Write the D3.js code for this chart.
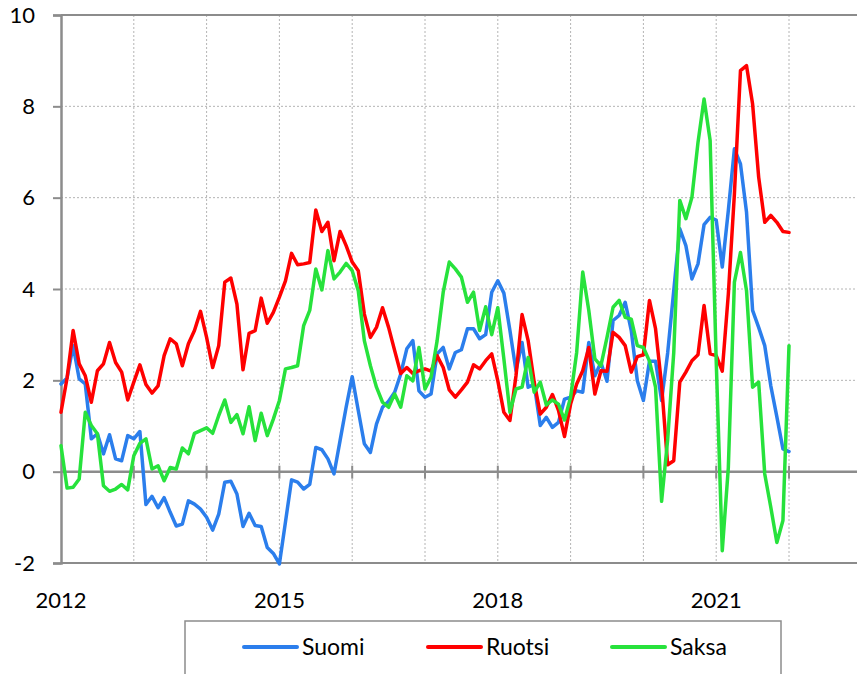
<!DOCTYPE html>
<html>
<head>
<meta charset="utf-8">
<script src="https://cdnjs.cloudflare.com/ajax/libs/d3/7.8.5/d3.min.js"></script>
<style>
  body { margin: 0; background: #fff; }
  text { font-family: Lato, "Open Sans", sans-serif; fill: #000; }
</style>
</head>
<body>
<svg width="857" height="674"></svg>
<script>
// data: monthly values, Jan 2012 .. Jan 2022
var startYear = 2012;
var seriesNames = ["Suomi", "Ruotsi", "Saksa"];
var seriesColors = ["#2b7eec", "#ff0000", "#27e23c"];
var yearTicks = [2012, 2015, 2018, 2021];
var yTicks = [-2, 0, 2, 4, 6, 8, 10];

var suomi = [
  1.92, 2.05, 2.76, 2.03, 1.92, 0.72, 0.83, 0.39, 0.81, 0.28, 0.24, 0.79,
  0.72, 0.88, -0.72, -0.54, -0.79, -0.57, -0.89, -1.19, -1.15, -0.64, -0.71, -0.82,
  -1.00, -1.28, -0.93, -0.23, -0.21, -0.49, -1.20, -0.91, -1.18, -1.20, -1.66, -1.79,
  -2.02, -1.10, -0.18, -0.23, -0.38, -0.28, 0.53, 0.48, 0.28, -0.05, 0.68, 1.41,
  2.08, 1.34, 0.61, 0.42, 1.04, 1.41, 1.54, 1.74, 2.14, 2.69, 2.87, 1.77,
  1.63, 1.70, 2.58, 2.72, 2.25, 2.61, 2.67, 3.13, 3.13, 2.91, 3.00, 3.93,
  4.18, 3.91, 3.09, 2.21, 2.83, 1.85, 1.91, 1.01, 1.19, 0.97, 1.08, 1.59,
  1.63, 1.77, 1.74, 2.83, 2.10, 2.39, 1.98, 3.31, 3.42, 3.71, 3.09, 1.99,
  1.56, 2.42, 2.42, 1.56, 2.60, 3.96, 5.32, 4.95, 4.22, 4.55, 5.41, 5.57,
  5.51, 4.48, 5.72, 7.07, 6.74, 5.68, 3.53, 3.16, 2.76, 1.88, 1.20, 0.50,
  0.44
];

var ruotsi = [
  1.30, 2.05, 3.09, 2.36, 2.10, 1.52, 2.21, 2.36, 2.83, 2.39, 2.18, 1.57,
  1.96, 2.34, 1.91, 1.72, 1.88, 2.54, 2.91, 2.80, 2.32, 2.80, 3.09, 3.51,
  2.94, 2.28, 2.76, 4.15, 4.24, 3.67, 2.23, 3.03, 3.09, 3.80, 3.25, 3.49,
  3.82, 4.18, 4.78, 4.53, 4.55, 4.58, 5.73, 5.26, 5.46, 4.62, 5.26, 4.95,
  4.59, 4.40, 3.45, 2.94, 3.16, 3.59, 3.16, 2.65, 2.15, 2.28, 2.15, 2.21,
  2.25, 2.20, 2.54, 2.28, 1.79, 1.63, 1.79, 1.96, 2.34, 2.25, 2.43, 2.58,
  1.99, 1.30, 1.12, 2.10, 3.44, 2.87, 1.96, 1.26, 1.41, 1.69, 1.34, 0.77,
  1.48, 1.92, 2.21, 2.72, 1.70, 2.21, 2.20, 3.05, 2.94, 2.76, 2.18, 2.52,
  2.56, 3.75, 3.13, 1.90, 0.15, 0.24, 1.96, 2.18, 2.43, 2.56, 3.64, 2.58,
  2.54, 2.20, 3.89, 6.08, 8.78, 8.89, 8.05, 6.45, 5.46, 5.61, 5.46, 5.26,
  5.24
];

var saksa = [
  0.57, -0.36, -0.34, -0.16, 1.30, 1.01, 0.83, -0.31, -0.43, -0.38, -0.28, -0.40,
  0.35, 0.62, 0.72, 0.06, 0.13, -0.20, 0.09, 0.06, 0.52, 0.39, 0.84, 0.90,
  0.96, 0.84, 1.23, 1.57, 1.08, 1.25, 0.83, 1.42, 0.68, 1.28, 0.79, 1.15,
  1.56, 2.25, 2.28, 2.32, 3.20, 3.53, 4.44, 3.98, 4.84, 4.22, 4.37, 4.56,
  4.40, 3.96, 2.87, 2.32, 1.85, 1.52, 1.41, 1.70, 1.41, 2.10, 1.99, 2.72,
  1.81, 2.07, 2.87, 3.93, 4.59, 4.44, 4.26, 3.71, 3.93, 3.09, 3.61, 3.00,
  3.59, 2.47, 1.30, 1.81, 1.85, 2.50, 1.74, 1.96, 1.46, 1.57, 1.48, 1.13,
  1.63, 2.61, 4.37, 3.53, 2.47, 2.32, 2.94, 3.60, 3.75, 3.38, 3.34, 2.76,
  2.72, 2.42, 1.85, -0.65, 0.70, 2.60, 5.94, 5.54, 6.01, 7.21, 8.16, 7.25,
  2.43, -1.73, 0.09, 4.15, 4.80, 3.96, 1.85, 1.96, -0.05, -0.78, -1.55, -1.07,
  2.76
];

var allSeries = [suomi, ruotsi, saksa];

var svg = d3.select("svg");
var width = +svg.attr("width");
var height = +svg.attr("height");

var x = d3.scaleLinear().domain([2012, 2023]).range([61, 861.8]);
var y = d3.scaleLinear().domain([-2, 10]).range([563, 15]);

// gridlines
var grid = svg.append("g").attr("class", "grid");
grid.selectAll(".vgrid")
  .data(d3.range(2013, 2023))
  .enter()
  .append("line")
  .attr("x1", function(d) { return x(d); })
  .attr("x2", function(d) { return x(d); })
  .attr("y1", y(10))
  .attr("y2", y(-2))
  .attr("stroke", "#b4b4b4")
  .attr("stroke-width", 1)
  .attr("stroke-dasharray", "2,2");

grid.selectAll(".hgrid")
  .data([2, 4, 6, 8])
  .enter()
  .append("line")
  .attr("x1", x(2012))
  .attr("x2", width)
  .attr("y1", function(d) { return y(d); })
  .attr("y2", function(d) { return y(d); })
  .attr("stroke", "#b4b4b4")
  .attr("stroke-width", 1)
  .attr("stroke-dasharray", "2,2");

// frame lines (top and bottom)
svg.append("line")
  .attr("x1", x(2012)).attr("x2", width)
  .attr("y1", y(10)).attr("y2", y(10))
  .attr("stroke", "#8c8c8c").attr("stroke-width", 2);
svg.append("line")
  .attr("x1", x(2012)).attr("x2", width)
  .attr("y1", y(-2)).attr("y2", y(-2))
  .attr("stroke", "#8c8c8c").attr("stroke-width", 2);

// y axis
var yAxis = d3.axisLeft(y)
  .tickValues(yTicks)
  .tickSize(8)
  .tickPadding(18)
  .tickFormat(function(d) { return String(d); });
var yg = svg.append("g")
  .attr("transform", "translate(" + x(2012) + ",0)")
  .call(yAxis);
yg.select(".domain").attr("stroke", "#8c8c8c").attr("stroke-width", 2.5);
yg.selectAll(".tick line").attr("stroke", "#8c8c8c").attr("stroke-width", 2);
yg.selectAll(".tick text")
  .style("font-family", "Lato, 'Open Sans', sans-serif")
  .style("font-size", "22px")
  .attr("fill", "#000");

// x axis at zero
svg.append("line")
  .attr("x1", x(2012)).attr("x2", width)
  .attr("y1", y(0)).attr("y2", y(0))
  .attr("stroke", "#8c8c8c").attr("stroke-width", 2.5);
svg.selectAll(".xtick")
  .data(d3.range(2013, 2023))
  .enter()
  .append("line")
  .attr("class", "xtick")
  .attr("x1", function(d) { return x(d); })
  .attr("x2", function(d) { return x(d); })
  .attr("y1", y(0) - 6)
  .attr("y2", y(0) + 7)
  .attr("stroke", "#8c8c8c")
  .attr("stroke-width", 2);

// year labels under the plot
svg.selectAll(".xlabel")
  .data(yearTicks)
  .enter()
  .append("text")
  .attr("class", "xlabel")
  .attr("x", function(d) { return x(d); })
  .attr("y", 608)
  .attr("text-anchor", "middle")
  .style("font-size", "22px")
  .text(function(d) { return d; });

// series lines
var line = d3.line()
  .x(function(d, i) { return x(startYear + i / 12); })
  .y(function(d) { return y(d); });

svg.append("g")
  .attr("class", "lines")
  .selectAll("path")
  .data(allSeries)
  .enter()
  .append("path")
  .attr("d", function(d) { return line(d); })
  .attr("fill", "none")
  .attr("stroke", function(d, i) { return seriesColors[i]; })
  .attr("stroke-width", 3.5)
  .attr("stroke-linejoin", "round")
  .attr("stroke-linecap", "round");

// legend
var legend = svg.append("g").attr("class", "legend");
legend.append("rect")
  .attr("x", 185)
  .attr("y", 621)
  .attr("width", 596)
  .attr("height", 70)
  .attr("fill", "#fff")
  .attr("stroke", "#8c8c8c")
  .attr("stroke-width", 1.5);

var legendX = [244, 428, 612];
var item = legend.selectAll(".item")
  .data(seriesNames)
  .enter()
  .append("g")
  .attr("class", "item")
  .attr("transform", function(d, i) { return "translate(" + legendX[i] + ",647)"; });

item.append("line")
  .attr("x1", 0).attr("x2", 53)
  .attr("y1", 0).attr("y2", 0)
  .attr("stroke", function(d, i) { return seriesColors[i]; })
  .attr("stroke-width", 4)
  .attr("stroke-linecap", "round");

item.append("text")
  .attr("x", 58)
  .attr("y", 8)
  .style("font-size", "23px")
  .text(function(d) { return d; });
</script>
</body>
</html>
